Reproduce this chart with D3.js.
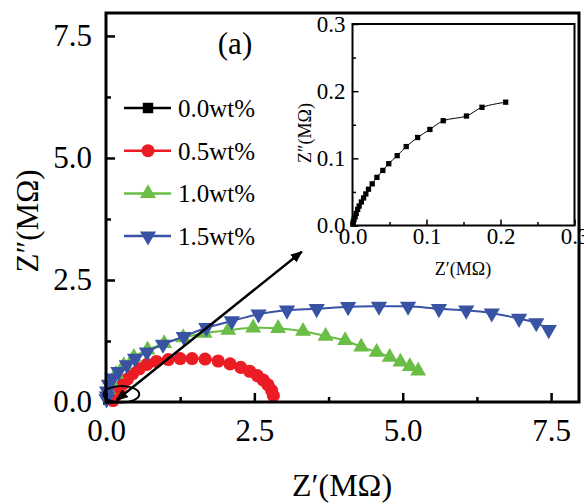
<!DOCTYPE html>
<html>
<head>
<meta charset="utf-8">
<script src="https://cdn.jsdelivr.net/npm/d3@7"></script>
<style>
    body { margin: 0; background: #fff; }
    svg { display: block; }
    svg text { font-family: "Liberation Serif", "Times New Roman", serif; }
</style>
</head>
<body>
<div id="chart"></div>
<script>
// legend labels
const seriesNames = ["0.0wt%", "0.5wt%", "1.0wt%", "1.5wt%"];

// 0.0wt% (also the inset)
const zr00 = [0.0004, 0.001, 0.002, 0.0035, 0.005, 0.007, 0.009, 0.012, 0.015, 0.018, 0.0216, 0.0266, 0.033, 0.041, 0.049, 0.0604, 0.0726, 0.088, 0.1046, 0.1226, 0.154, 0.175, 0.207];
const zi00 = [0.002, 0.005, 0.009, 0.013, 0.018, 0.024, 0.029, 0.035, 0.041, 0.047, 0.054, 0.062, 0.0717, 0.082, 0.092, 0.104, 0.1175, 0.131, 0.143, 0.156, 0.163, 0.176, 0.1836];

// 0.5wt%
const zr05 = [0.12, 0.17, 0.22, 0.28, 0.36, 0.45, 0.56, 0.69, 0.85, 1.05, 1.25, 1.45, 1.67, 1.89, 2.09, 2.27, 2.42, 2.55, 2.65, 2.73, 2.79, 2.82];
const zi05 = [0.03, 0.14, 0.25, 0.36, 0.47, 0.58, 0.68, 0.77, 0.83, 0.87, 0.89, 0.89, 0.88, 0.84, 0.78, 0.71, 0.63, 0.54, 0.45, 0.35, 0.24, 0.13];

// 1.0wt%
const zr10 = [0.04, 0.09, 0.17, 0.30, 0.47, 0.70, 0.98, 1.30, 1.66, 2.06, 2.48, 2.90, 3.32, 3.70, 4.03, 4.30, 4.56, 4.78, 4.96, 5.12, 5.26];
const zi10 = [0.25, 0.40, 0.57, 0.75, 0.92, 1.07, 1.20, 1.32, 1.41, 1.47, 1.52, 1.51, 1.45, 1.35, 1.26, 1.13, 1.02, 0.92, 0.82, 0.73, 0.635];

// 1.5wt%
const zr15 = [0.01, 0.015, 0.02, 0.05, 0.11, 0.21, 0.35, 0.49, 0.69, 0.96, 1.31, 1.69, 2.12, 2.57, 3.05, 3.55, 4.08, 4.60, 5.09, 5.61, 6.07, 6.50, 6.96, 7.25, 7.46];
const zi15 = [0.06, 0.12, 0.22, 0.36, 0.49, 0.62, 0.76, 0.89, 1.02, 1.18, 1.34, 1.52, 1.66, 1.80, 1.88, 1.91, 1.95, 1.96, 1.96, 1.91, 1.88, 1.82, 1.71, 1.62, 1.48];

const majorTicks = [0, 2.5, 5, 7.5];
const minorTicks = [1.25, 3.75, 6.25];
const insetMajor = [0, 0.1, 0.2, 0.3];
const insetMinor = [0.05, 0.15, 0.25];

// ellipse round the origin and the arrow to the inset (data units)
const ringCenter = [0.26, 0.16];
const ringRadius = [0.30, 0.17];
const arrowFrom = [0.18, 0.04];
const arrowTo = [3.30, 3.08];

const colors = ["#000000", "#ec1c24", "#6abd45", "#3953a4"];
const shapes = ["square", "circle", "triangle", "down"];
const serif = "'Liberation Serif', 'Times New Roman', serif";

const W = 584, H = 503;
const svg = d3.select("#chart").append("svg").attr("width", W).attr("height", H);

const x = d3.scaleLinear().domain([0, 7.97]).range([106, 579]);
const y = d3.scaleLinear().domain([0, 7.97]).range([402, 13]);

function symbolPath(shape, size) {
    if (shape == "square") return d3.symbol(d3.symbolSquare, size)();
    if (shape == "circle") return d3.symbol(d3.symbolCircle, size)();
    return d3.symbol(d3.symbolTriangle, size)();
}

function drawSeries(g, xs, ys, sx, sy, color, shape, size, lw) {
    let pts = xs.map((v, i) => [v, ys[i]]);
    g.append("path")
        .datum(pts)
        .attr("fill", "none")
        .attr("stroke", color)
        .attr("stroke-width", lw)
        .attr("d", d3.line().curve(d3.curveCatmullRom).x(d => sx(d[0])).y(d => sy(d[1])));
    g.selectAll(null)
        .data(pts)
        .enter()
        .append("path")
        .attr("d", symbolPath(shape, size))
        .attr("fill", color)
        .attr("transform", d => "translate(" + sx(d[0]) + "," + sy(d[1]) + ")" + (shape == "down" ? " rotate(180)" : ""));
}

function styleAxis(a, opts) {
    a.attr("font-family", serif).attr("font-size", opts.fs);
    a.select(".domain").remove();
    a.selectAll("line").attr("stroke-width", opts.tw);
    a.selectAll("text").style("font-family", serif).attr("font-size", opts.fs).attr("fill", "#000");
}

// inward ticks, minor ticks and a closed frame
function addAxes(g, sx, sy, major, minor, opts) {
    let x0 = sx.range()[0], y0 = sy.range()[0];
    g.append("g")
        .attr("transform", "translate(0," + y0 + ")")
        .call(d3.axisBottom(sx).tickValues(major).tickSize(-opts.major).tickPadding(opts.xPad).tickFormat(d3.format(".1f")))
        .call(a => styleAxis(a, opts));
    g.append("g")
        .attr("transform", "translate(0," + y0 + ")")
        .call(d3.axisBottom(sx).tickValues(minor).tickSize(-opts.minor).tickFormat(""))
        .call(a => styleAxis(a, opts));
    g.append("g")
        .attr("transform", "translate(" + x0 + ",0)")
        .call(d3.axisLeft(sy).tickValues(major).tickSize(-opts.major).tickPadding(opts.yPad).tickFormat(d3.format(".1f")))
        .call(a => styleAxis(a, opts));
    g.append("g")
        .attr("transform", "translate(" + x0 + ",0)")
        .call(d3.axisLeft(sy).tickValues(minor).tickSize(-opts.minor).tickFormat(""))
        .call(a => styleAxis(a, opts));
    g.append("rect")
        .attr("x", sx.range()[0]).attr("y", sy.range()[1])
        .attr("width", sx.range()[1] - sx.range()[0])
        .attr("height", sy.range()[0] - sy.range()[1])
        .attr("fill", "none").attr("stroke", "#000").attr("stroke-width", opts.fw);
}

const main = svg.append("g");
const plot = main.append("g");

const allX = [zr00, zr05, zr10, zr15];
const allY = [zi00, zi05, zi10, zi15];
const sizes = [30, 135, 110, 115];
allX.forEach((xs, i) => drawSeries(plot, xs, allY[i], x, y, colors[i], shapes[i], sizes[i], 2));

// ellipse
plot.append("ellipse")
    .attr("cx", x(ringCenter[0])).attr("cy", y(ringCenter[1]))
    .attr("rx", x(ringRadius[0]) - x(0)).attr("ry", y(0) - y(ringRadius[1]))
    .attr("fill", "none").attr("stroke", "#000").attr("stroke-width", 2);

// double arrow
const defs = svg.append("defs");
defs.append("marker")
    .attr("id", "head")
    .attr("viewBox", "0 0 12 10")
    .attr("refX", 11).attr("refY", 5)
    .attr("markerWidth", 12).attr("markerHeight", 10)
    .attr("markerUnits", "userSpaceOnUse")
    .attr("orient", "auto-start-reverse")
    .append("path").attr("d", "M0,0 L12,5 L0,10 z").attr("fill", "#000");
plot.append("line")
    .attr("x1", x(arrowFrom[0])).attr("y1", y(arrowFrom[1]))
    .attr("x2", x(arrowTo[0])).attr("y2", y(arrowTo[1]))
    .attr("stroke", "#000").attr("stroke-width", 2.5)
    .attr("marker-start", "url(#head)").attr("marker-end", "url(#head)");

addAxes(main, x, y, majorTicks, minorTicks, { major: 9, minor: 5, tw: 2.5, fw: 3, fs: 31, xPad: 17, yPad: 14 });

// axis titles
main.append("text").attr("x", 342).attr("y", 496).attr("text-anchor", "middle")
    .attr("font-size", 32).text("Z\u2032(M\u03A9)");
main.append("text").attr("transform", "translate(38,221) rotate(-90)").attr("text-anchor", "middle")
    .attr("font-size", 31).text("Z\u2033(M\u03A9)");

// (a)
main.append("text").attr("x", 235).attr("y", 54).attr("text-anchor", "middle")
    .attr("font-size", 31).text("(a)");

// legend
const legend = main.append("g").attr("transform", "translate(124,108)");
seriesNames.forEach((name, i) => {
    let row = legend.append("g").attr("transform", "translate(0," + i * 42.7 + ")");
    row.append("line").attr("x1", 0).attr("x2", 47).attr("y1", 0).attr("y2", 0)
        .attr("stroke", colors[i]).attr("stroke-width", 2.5);
    row.append("path").attr("d", symbolPath(shapes[i], i == 0 ? 110 : sizes[i]))
        .attr("fill", colors[i])
        .attr("transform", "translate(24,0)" + (shapes[i] == "down" ? " rotate(180)" : ""));
    row.append("text").attr("x", 54).attr("y", 9).attr("font-size", 25).text(name);
});

// inset
const ix = d3.scaleLinear().domain([0, 0.3]).range([352.5, 574.5]);
const iy = d3.scaleLinear().domain([0, 0.3]).range([225.5, 24]);
const inset = svg.append("g");
inset.append("rect")
    .attr("x", ix.range()[0]).attr("y", iy.range()[1])
    .attr("width", ix.range()[1] - ix.range()[0])
    .attr("height", iy.range()[0] - iy.range()[1])
    .attr("fill", "#fff");
drawSeries(inset, zr00, zi00, ix, iy, "#000", "square", 28, 1);
addAxes(inset, ix, iy, insetMajor, insetMinor, { major: 6, minor: 3.5, tw: 1.5, fw: 2, fs: 23, xPad: 2, yPad: 7 });
inset.append("text").attr("x", 463).attr("y", 275).attr("text-anchor", "middle")
    .attr("font-size", 18).text("Z\u2032(M\u03A9)");
inset.append("text").attr("transform", "translate(311,133) rotate(-90)").attr("text-anchor", "middle")
    .attr("font-size", 18).text("Z\u2033(M\u03A9)");
</script>
</body>
</html>
